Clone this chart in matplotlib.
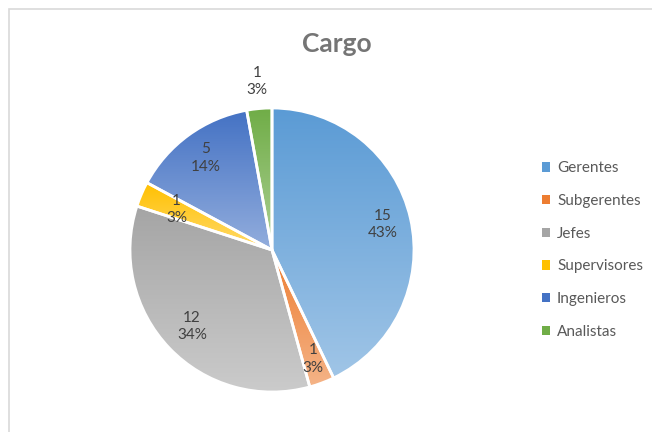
import numpy as np
import matplotlib
matplotlib.use("Agg")
import matplotlib.pyplot as plt
from matplotlib.colors import to_rgb
from matplotlib.patches import Rectangle

# data
cargos = ["Gerentes", "Subgerentes", "Jefes", "Supervisores", "Ingenieros", "Analistas"]
cantidades = [15, 1, 12, 1, 5, 1]
colores = ["#5B9BD5", "#ED7D31", "#A5A5A5", "#FFC000", "#4472C4", "#70AD47"]

plt.rcParams['font.family'] = ['Lato', 'DejaVu Sans']

W, H = 652, 432
fig = plt.figure(figsize=(W / 100, H / 100), dpi=100)

# light grey chart border (only top and left visible)
fig.patches.append(Rectangle((9 / W, -0.1), 1.2, (H - 9) / H + 0.1, transform=fig.transFigure,
                             fill=False, edgecolor="#d9d9d9", linewidth=1.2))

cx, cy, r = 272, 250, 142
ax = fig.add_axes([(cx - r) / W, (H - cy - r) / H, 2 * r / W, 2 * r / H])

wedges, _ = ax.pie(cantidades, colors=colores, startangle=90, counterclock=False,
                   wedgeprops=dict(edgecolor="white", linewidth=2))


def tint(c, f):
    c = np.array(to_rgb(c))
    return c + (1 - c) * f


# vertical gradient per slice: darker at top, lighter at bottom
for w, col in zip(wedges, colores):
    th = np.radians(np.linspace(w.theta1, w.theta2, 200))
    ys = np.concatenate([np.sin(th), [0]])
    ymin, ymax = ys.min(), ys.max()
    t = np.linspace(0, 1, 100)[:, None]
    top, bot = tint(col, 0.0), tint(col, 0.42)
    grad = top[None, :] * (1 - t) + bot[None, :] * t
    img = np.repeat(grad[:, None, :], 2, axis=1)
    im = ax.imshow(img, extent=(-1, 1, ymin, ymax), origin="upper", aspect="auto", zorder=w.get_zorder())
    im.set_clip_path(w)
    w.set_zorder(w.get_zorder() + 0.5)
    w.set_facecolor("none")

total = sum(cantidades)
dist = [0.80, 0.82, 0.78, 0.73, 0.80, 1.19]
for w, v, d in zip(wedges, cantidades, dist):
    ang = np.radians((w.theta1 + w.theta2) / 2)
    ax.text(d * np.cos(ang), d * np.sin(ang), f"{v}\n{v / total:.0%}",
            ha="center", va="center", fontsize=11, color="#404040", linespacing=1.3, zorder=10)

ax.set_xlim(-1, 1)
ax.set_ylim(-1, 1)

fig.text(337 / W, 1 - 44 / H, "Cargo", ha="center", va="center", fontsize=19,
         fontweight="bold", color="#757575")

leg = fig.legend(wedges, cargos, loc="center left", bbox_to_anchor=(528 / W, 1 - 250 / H),
                 frameon=False, fontsize=11, labelcolor="#595959", handlelength=0.55,
                 handleheight=0.55, handletextpad=0.45, labelspacing=1.22)
for h, col in zip(leg.legend_handles, colores):
    h.set_facecolor(col)
    h.set_edgecolor("none")

fig.savefig("out.png", dpi=100)
